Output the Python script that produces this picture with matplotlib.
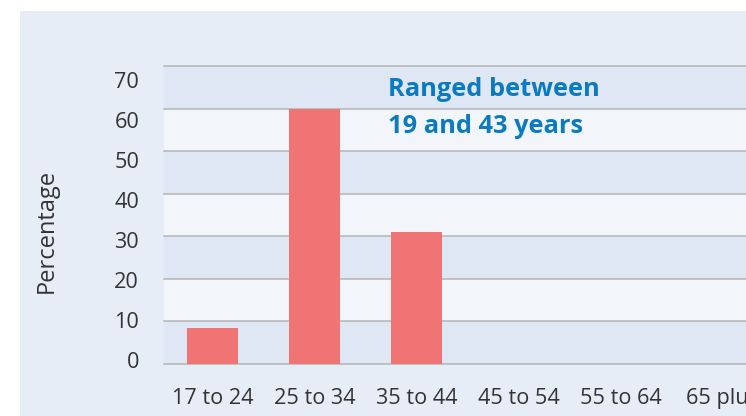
import numpy as np
import matplotlib.pyplot as plt
from matplotlib.patches import Rectangle

# age groups and share of respondents (percent)
ageGroups = ['17 to 24', '25 to 34', '35 to 44', '45 to 54', '55 to 64', '65 plus']
percentages = [8.5, 60, 31, 0, 0, 0]
gridValues = [0, 10, 20, 30, 40, 50, 60, 70]
noteLines = ['Ranged between', '19 and 43 years']

barColor, noteColor, textColor = '#f07474', '#0b7bc1', '#333333'
panelColor, darkBand, lightBand = '#e6edf7', '#dfe7f4', '#f2f6fb'

plt.rcParams['font.family'] = ['Open Sans', 'DejaVu Sans']

fig = plt.figure(figsize=(7.46, 4.16), dpi=100)
fig.patches.append(Rectangle((20/746., 0), 1, 1 - 11/416., transform=fig.transFigure,
                             facecolor=panelColor, edgecolor='none', zorder=-5))

ax = fig.add_axes([164/746., 52/416., 609.5/746., 298/416.])
ax.set_zorder(2)
ax.set_xlim(-0.475, 5.5)
ax.set_ylim(0, 70)
ax.patch.set_alpha(0)

# alternating bands between gridlines
for i in range(len(gridValues) - 1):
    ax.axhspan(gridValues[i], gridValues[i+1], color=darkBand if i % 2 == 0 else lightBand, lw=0, zorder=0)
for v in gridValues: ax.axhline(v, color='#b4b4b4', lw=1.1, zorder=1, clip_on=False)

x = np.arange(len(ageGroups))
ax.bar(x, percentages, width=0.5, color=barColor, zorder=2)

ax.set_xticks(x)
ax.set_xticklabels(ageGroups, fontsize=15.6, color=textColor)
# the source prints its y labels a little off the gridlines
ax.set_yticks([v * 0.939 + 0.94 for v in gridValues])
ax.set_yticklabels([str(v) for v in gridValues], fontsize=15.6, color=textColor)
ax.tick_params(length=0)
ax.tick_params(axis='x', pad=17)
ax.tick_params(axis='y', pad=18)
for s in ax.spines.values(): s.set_visible(False)

fig.text(47/746., 1 - 231/416., 'Percentage', rotation=90, fontsize=17, color=textColor,
         ha='center', va='center')

for line, yb in zip(noteLines, [63.0, 54.3]):
    ax.text(1.72, yb, line, color=noteColor, fontsize=18.3, fontweight='bold', va='baseline', zorder=3)

fig.savefig('out.png', dpi=100)
